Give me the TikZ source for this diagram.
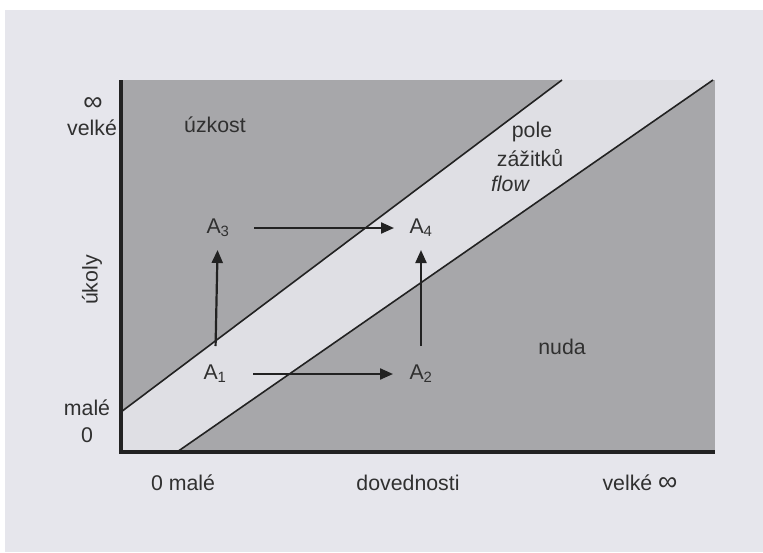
\documentclass[tikz,border=0pt]{standalone}
\usepackage{fontspec}
\setmainfont{Liberation Sans}
\usetikzlibrary{arrows.meta}
\definecolor{page}{HTML}{E6E6EC}
\definecolor{darkzone}{HTML}{A7A7AA}
\definecolor{band}{HTML}{DFDFE4}
\definecolor{ink}{HTML}{303030}
\definecolor{lineink}{HTML}{222222}
\newcommand{\infsym}{{\fontsize{27}{24}\selectfont ∞}}
\begin{document}
\begin{tikzpicture}[x=1pt,y=-1pt,
  lbl/.style={font=\fontsize{21.3}{24}\selectfont, text=ink, inner sep=0pt},
  arr/.style={-{Triangle[length=13pt,width=11pt]}, line width=2.2pt, draw=lineink},
  diag/.style={line width=1.6pt, draw=lineink},
  axis/.style={line width=4pt, draw=lineink}]
\useasboundingbox (0,0) rectangle (763,552);
\fill[white] (0,0) rectangle (763,552);
\fill[page] (5,10) rectangle (763,552);
% zones
\coordinate (o) at (121,452);
\coordinate (tl) at (121,80);
\coordinate (tr) at (715,80);
\coordinate (br) at (715,452);
\coordinate (u1) at (121,412);
\coordinate (u2) at (562,80);
\coordinate (l1) at (177,452);
\coordinate (l2) at (713,80);
\fill[darkzone] (tl) rectangle (br);
\fill[band] (u1) -- (u2) -- (l2) -- (l1) -- (o) -- cycle;
\draw[diag] (u1) -- (u2);
\draw[diag] (l1) -- (l2);
\draw[axis] (121,80) -- (o) -- (br);
% points
\node[lbl] (A3) at (218,228) {A\textsubscript{3}};
\node[lbl] (A4) at (421,228) {A\textsubscript{4}};
\node[lbl] (A1) at (215,374) {A\textsubscript{1}};
\node[lbl] (A2) at (421,374) {A\textsubscript{2}};
\draw[arr, shorten <=36pt, shorten >=27pt] (A3.center) -- (A4.center);
\draw[arr, shorten <=38pt, shorten >=28pt] (A1.center) -- (A2.center);
\draw[arr, shorten <=28pt, shorten >=22pt] (A1.center) -- (A3.center);
\draw[arr, shorten <=28pt, shorten >=22pt] (A2.center) -- (A4.center);
% labels
\node[lbl] (inf1) at (93,104) {\infsym};
\node[lbl] (vel1) at (92,128) {velké};
\node[lbl] (uzk) at (215,125) {úzkost};
\node[lbl] (pole) at (532,132) {pole};
\node[lbl] (zaz) at (530,158) {zážitků};
\node[lbl] (flow) at (510,184) {\itshape flow};
\node[lbl] (nuda) at (562,347) {nuda};
\node[lbl, rotate=90] (ukoly) at (92,280) {úkoly};
\node[lbl] (male1) at (87,408) {malé};
\node[lbl] (zero1) at (87,435) {0};
\node[lbl] (male2) at (183,483) {0 malé};
\node[lbl] (dov) at (408,483) {dovednosti};
\node[lbl] (vel2) at (640,483) {velké \infsym};
\end{tikzpicture}
\end{document}
